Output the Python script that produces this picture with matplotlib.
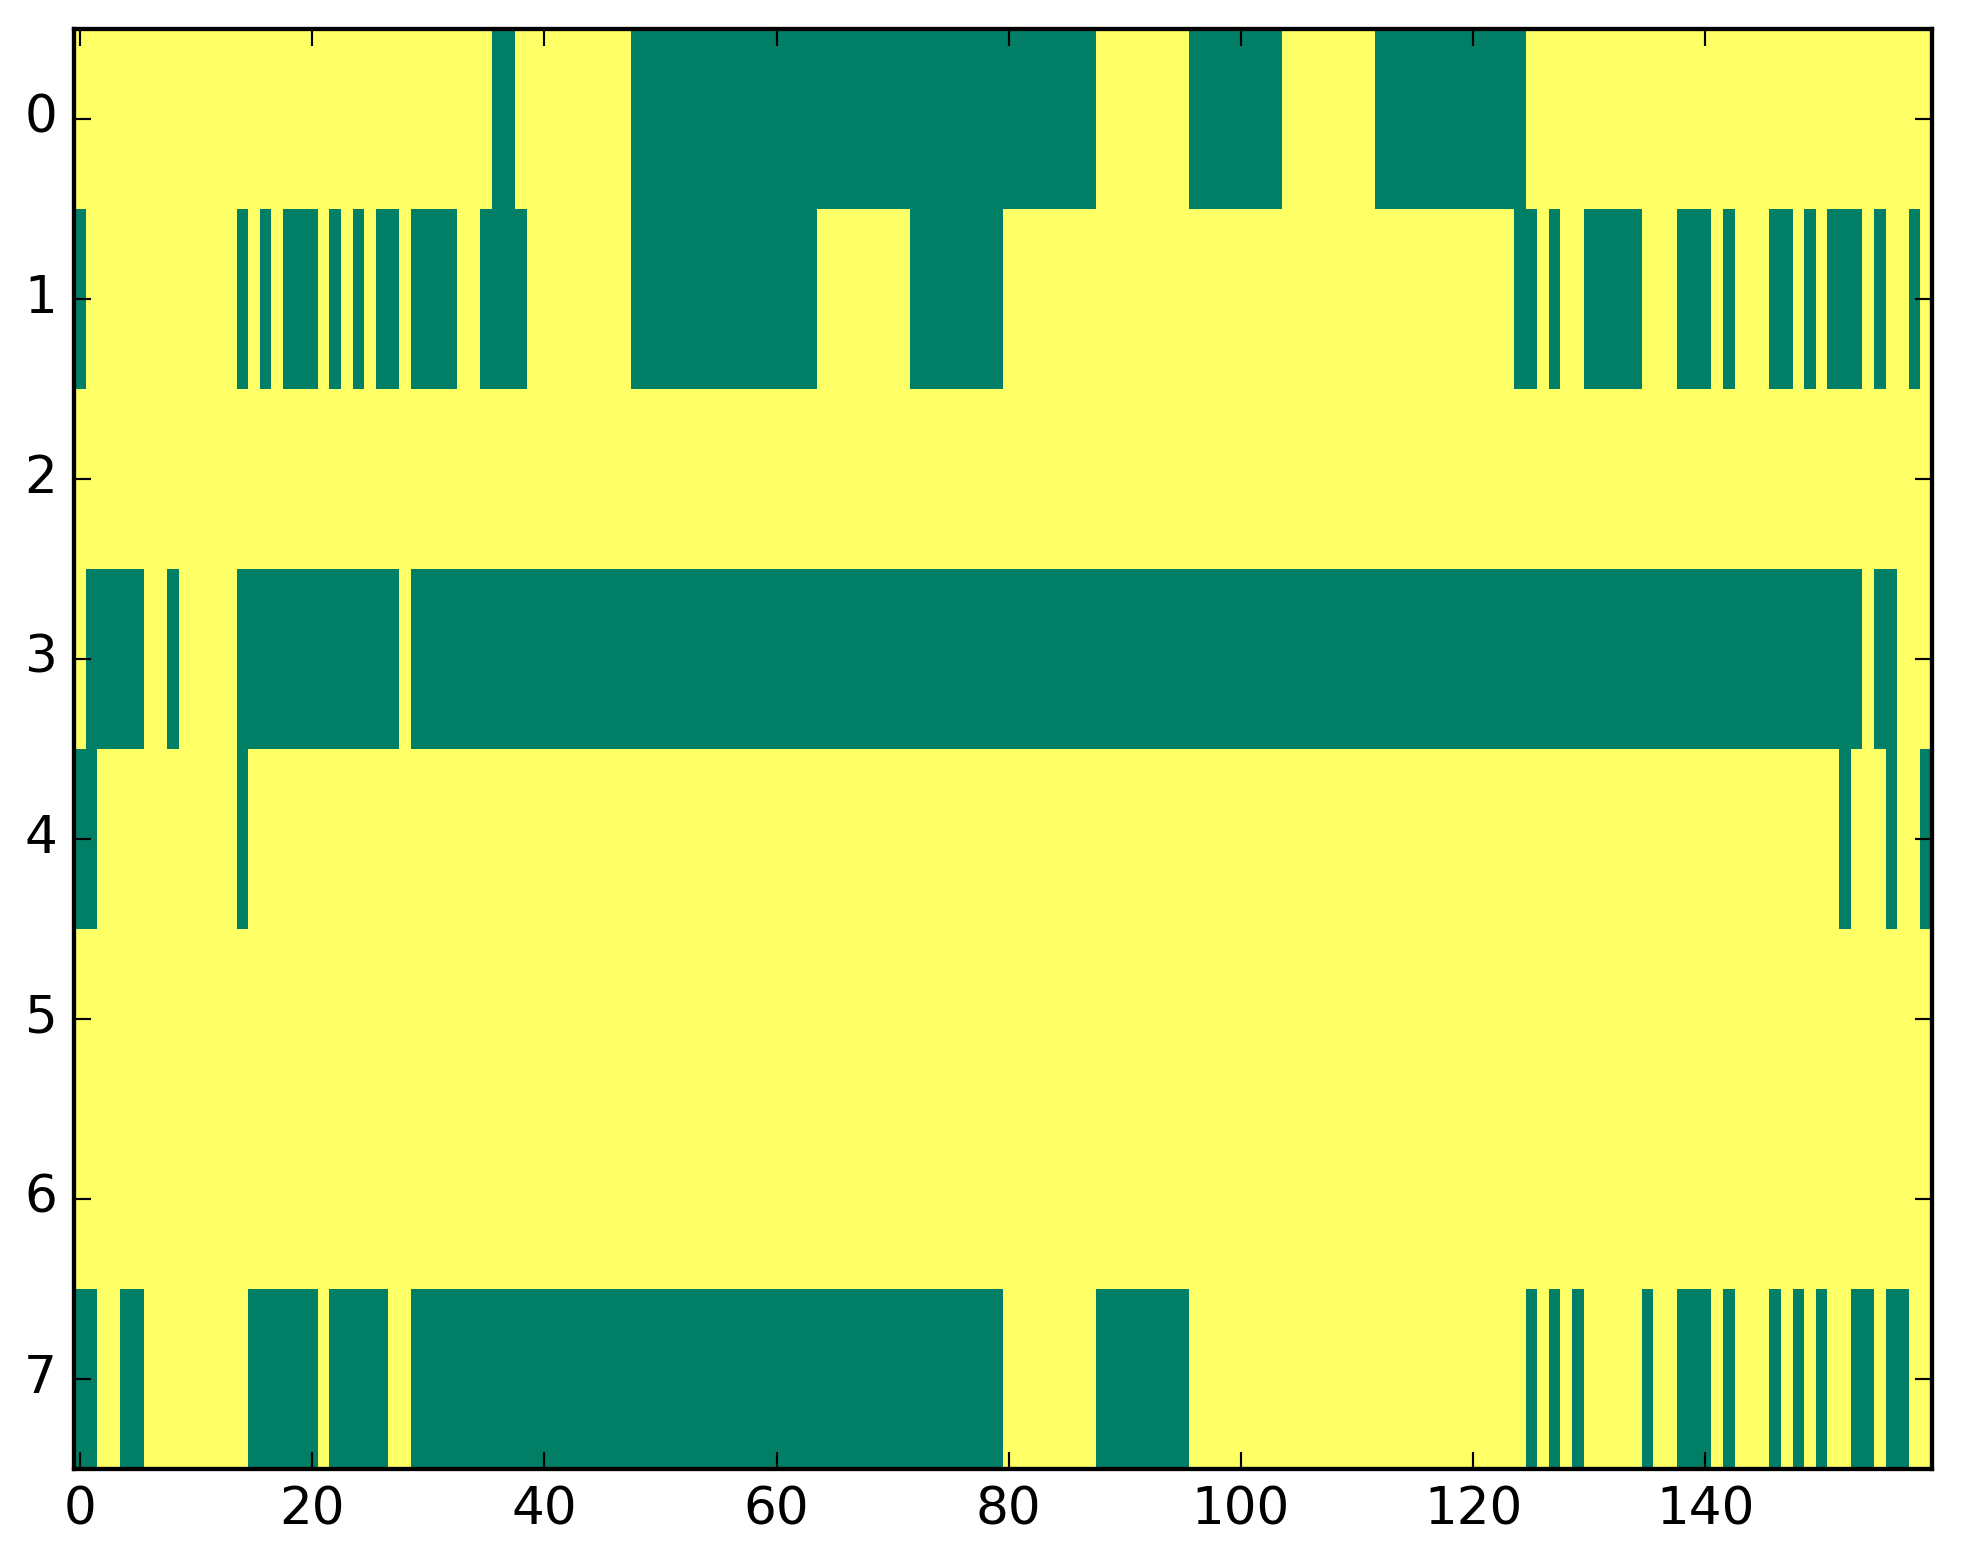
import numpy as np
import matplotlib
matplotlib.use("Agg")
import matplotlib.pyplot as plt

n_cols = 160
n_rows = 8

# column indices that take the low (green) value in each row; all others are high (yellow)
row0_low = [36, 37] + list(range(48, 88)) + list(range(96, 104)) + list(range(112, 125))
row1_low = ([0, 14, 16, 18, 19, 20, 22, 24, 26, 27] + list(range(29, 33)) + list(range(35, 39))
            + list(range(48, 64)) + list(range(72, 80))
            + [124, 125, 127] + list(range(130, 135)) + [138, 139, 140, 142, 146, 147, 149,
                                                            151, 152, 153, 155, 158])
row2_low = []
row3_low = list(range(1, 6)) + [8] + list(range(14, 28)) + list(range(29, 154)) + [155, 156]
row4_low = [0, 1, 14, 152, 156, 159]
row5_low = []
row6_low = []
row7_low = ([0, 1, 4, 5] + list(range(15, 21)) + list(range(22, 27)) + list(range(29, 80))
            + list(range(88, 96))
            + [125, 127, 129, 135, 138, 139, 140, 142, 146, 148, 150, 153, 154, 156, 157])

rows_low = [row0_low, row1_low, row2_low, row3_low, row4_low, row5_low, row6_low, row7_low]

data = np.ones((n_rows, n_cols))
for r, cols in enumerate(rows_low):
    data[r, cols] = 0

plt.style.use("classic")
dpi = 310
fig = plt.figure(figsize=(1963 / dpi, 1564 / dpi), dpi=dpi)
ax = fig.add_axes([0.0378, 0.061, 0.9463, 0.9206])
ax.imshow(data, cmap="summer", interpolation="nearest", aspect="auto", vmin=0, vmax=1)
ax.set_xticks(np.arange(0, 160, 20))
ax.set_yticks(np.arange(0, 8, 1))
ax.set_xlim(-0.5, n_cols - 0.5)
ax.set_ylim(n_rows - 0.5, -0.5)
fig.savefig("out.png", dpi=dpi)
